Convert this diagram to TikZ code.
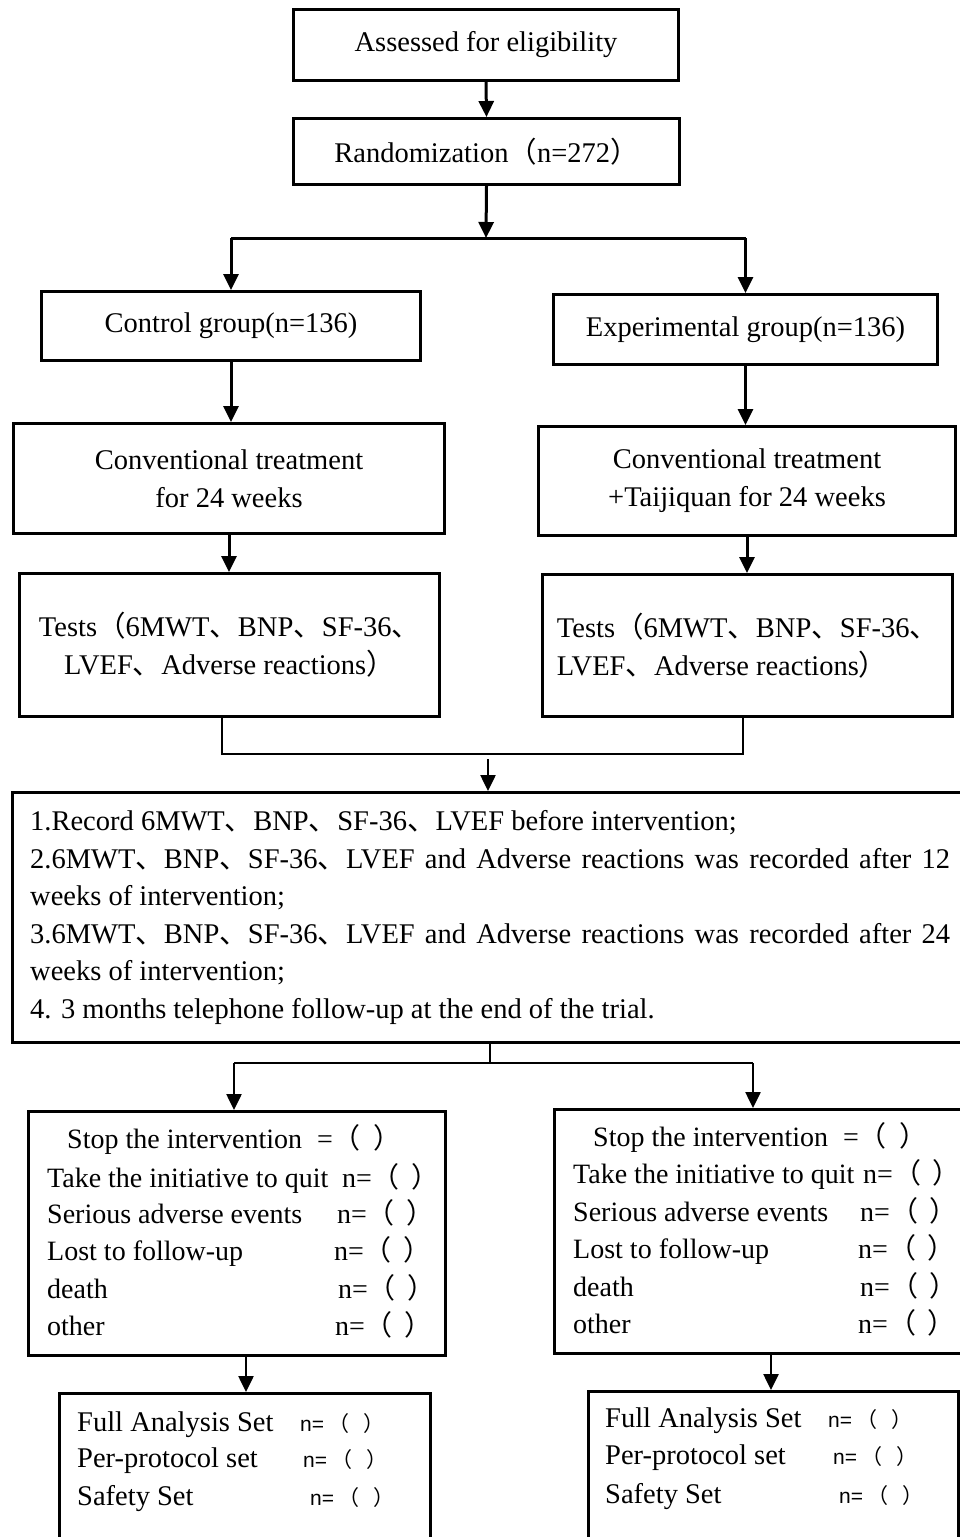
\documentclass[tikz,border=0pt]{standalone}
\usepackage{fontspec}
\setmainfont{Liberation Serif}
\newfontfamily\cjk{Noto Sans CJK SC}
\newfontfamily\sansn{Liberation Sans}
\usetikzlibrary{arrows.meta,calc}
\newcommand{\zlp}{{\cjk （}}
\newcommand{\zrp}{{\cjk ）}}
\newcommand{\zrpn}{\makebox[0.55em][l]{\cjk ）}}
\newcommand{\zdun}{{\cjk 、}}
\newcommand{\nparen}{n=\zlp\hspace{12pt}\zrpn}
\newcommand{\snparen}{{\sansn n=}\hspace{4pt}\zlp\hspace{14pt}\zrpn}
\begin{document}
\begin{tikzpicture}[x=1pt,y=-1pt,
  box/.style={draw, line width=3pt, inner sep=0pt, anchor=north west, align=center, font=\fontsize{28.5}{38}\selectfont},
  thinbox/.style={box, line width=2.5pt},
  arr/.style={line width=3pt, -{Triangle[width=15pt,length=16pt]}},
  thinarr/.style={line width=2.5pt, -{Triangle[width=15pt,length=16pt]}},
  conn/.style={line width=3pt},
  thinconn/.style={line width=2.5pt},
  txt/.style={inner sep=0pt, anchor=base west, font=\fontsize{28.5}{38}\selectfont},
  stxt/.style={inner sep=0pt, anchor=base west, font=\fontsize{28}{38}\selectfont},
  ntxt/.style={inner sep=0pt, anchor=base west, font=\fontsize{21}{25}\selectfont}]

\useasboundingbox (0,0) rectangle (960,1537);
\clip (0,0) rectangle (960,1537);
\fill[white] (0,0) rectangle (960,1537);

% boxes
\node[box, minimum width=385pt, minimum height=71pt] (assess) at (292,8) {Assessed for eligibility};
\node[box, minimum width=386pt, minimum height=66pt] (rand) at (292,117) {Randomization\zlp n=272\zrp};
\node[box, minimum width=379pt, minimum height=69pt] (ctrl) at (40,290) {Control group(n=136)};
\node[box, minimum width=384pt, minimum height=70pt] (exp) at (552,293) {Experimental group(n=136)};
\node[box, minimum width=431pt, minimum height=110pt] (conv1) at (12,422) {Conventional treatment\\for 24 weeks};
\node[box, minimum width=417pt, minimum height=109pt] (conv2) at (537,425) {Conventional treatment\\+Taijiquan for 24 weeks};
\node[box, minimum width=420pt, minimum height=143pt] (tests1) at (18,572) {Tests\zlp 6MWT\zdun BNP\zdun SF-36\zdun\\LVEF\zdun Adverse reactions\zrp};
\node[box, align=left, minimum width=410pt, minimum height=142pt] (tests2) at (541,573) {Tests\zlp 6MWT\zdun BNP\zdun SF-36\zdun\\LVEF\zdun Adverse reactions\zrp};
\node[thinbox, minimum width=964pt, minimum height=250pt] (rec) at (11,791) {};
\node[thinbox, minimum width=417pt, minimum height=244pt] (stop1) at (27,1110) {};
\node[thinbox, minimum width=430pt, minimum height=244pt] (stop2) at (553,1108) {};
\node[thinbox, minimum width=371pt, minimum height=175pt] (set1) at (58,1392) {};
\node[thinbox, minimum width=370pt, minimum height=177pt] (set2) at (587,1390) {};

% connectors top
\draw[arr] (assess.south) -- (rand.north);
\coordinate (j1) at (486,238);
\draw[arr] (rand.south) -- (j1);
\coordinate (cL) at (ctrl.north |- j1);
\coordinate (cR) at (exp.north |- j1);
\draw[conn] (cL) -- (cR);
\draw[arr] (cL) -- (ctrl.north);
\draw[arr] (cR) -- (exp.north);
\draw[arr] (ctrl.south) -- (ctrl.south |- conv1.north);
\draw[arr] (conv1.south) -- (conv1.south |- tests1.north);
\draw[arr] (exp.south) -- (exp.south |- conv2.north);
\draw[arr] (conv2.south) -- (conv2.south |- tests2.north);

% bracket
\coordinate (bL) at (222,754);
\coordinate (bR) at (743,754);
\draw[thinconn] (bL |- tests1.south) -- (bL) -- (bR) -- (bR |- tests2.south);
\coordinate (a1) at (488,759);
\draw[thinarr] (a1) -- (a1 |- rec.north);

% lower split
\coordinate (m1) at (490,1063);
\draw[thinconn] (m1 |- rec.south) -- (m1);
\coordinate (sL) at (234,1063);
\coordinate (sR) at (753,1063);
\draw[thinconn] (sL) -- (sR);
\draw[thinarr] (sL) -- (sL |- stop1.north);
\draw[thinarr] (sR) -- (sR |- stop2.north);
\coordinate (t1) at (246,1370);
\coordinate (t2) at (771,1370);
\draw[thinarr] (t1 |- stop1.south) -- (t1 |- set1.north);
\draw[thinarr] (t2 |- stop2.south) -- (t2 |- set2.north);

% record box text
\node[txt] (r1) at (30,830) {1.Record 6MWT\zdun BNP\zdun SF-36\zdun LVEF before intervention;};
\node[txt] (r2) at (30,868) {\makebox[920pt][s]{2.6MWT\zdun BNP\zdun SF-36\zdun LVEF and Adverse reactions was recorded after 12}};
\node[txt] (r3) at (30,905) {weeks of intervention;};
\node[txt] (r4) at (30,943) {\makebox[920pt][s]{3.6MWT\zdun BNP\zdun SF-36\zdun LVEF and Adverse reactions was recorded after 24}};
\node[txt] (r5) at (30,980) {weeks of intervention;};
\node[txt] (r6) at (30,1018) {4. 3 months telephone follow-up at the end of the trial.};

% left stop box text
\node[stxt] (l1) at (67,1148) {Stop the intervention\hspace{15pt}=\zlp\hspace{13pt}\zrpn};
\node[stxt] (l2) at (47,1187) {Take the initiative to quit};
\node[stxt] (l2n) at (342,1187) {\nparen};
\node[stxt] (l3) at (47,1223) {Serious adverse events};
\node[stxt] (l3n) at (337,1223) {\nparen};
\node[stxt] (l4) at (47,1260) {Lost to follow-up};
\node[stxt] (l4n) at (334,1260) {\nparen};
\node[stxt] (l5) at (47,1298) {death};
\node[stxt] (l5n) at (338,1298) {\nparen};
\node[stxt] (l6) at (47,1335) {other};
\node[stxt] (l6n) at (335,1335) {\nparen};

% right stop box text
\node[stxt] (q1) at (593,1146) {Stop the intervention\hspace{15pt}=\zlp\hspace{13pt}\zrpn};
\node[stxt] (q2) at (573,1183) {Take the initiative to quit};
\node[stxt] (q2n) at (863,1183) {\nparen};
\node[stxt] (q3) at (573,1221) {Serious adverse events};
\node[stxt] (q3n) at (860,1221) {\nparen};
\node[stxt] (q4) at (573,1258) {Lost to follow-up};
\node[stxt] (q4n) at (858,1258) {\nparen};
\node[stxt] (q5) at (573,1296) {death};
\node[stxt] (q5n) at (860,1296) {\nparen};
\node[stxt] (q6) at (573,1333) {other};
\node[stxt] (q6n) at (858,1333) {\nparen};

% set boxes text
\node[txt] (f1) at (77,1431) {Full Analysis Set};
\node[ntxt] (f1n) at (300,1431) {\snparen};
\node[txt] (p1) at (77,1467) {Per-protocol set};
\node[ntxt] (p1n) at (303,1467) {\snparen};
\node[txt] (s1) at (77,1505) {Safety Set};
\node[ntxt] (s1n) at (310,1505) {\snparen};
\node[txt] (f2) at (605,1427) {Full Analysis Set};
\node[ntxt] (f2n) at (828,1427) {\snparen};
\node[txt] (p2) at (605,1464) {Per-protocol set};
\node[ntxt] (p2n) at (833,1464) {\snparen};
\node[txt] (s2) at (605,1503) {Safety Set};
\node[ntxt] (s2n) at (839,1503) {\snparen};
\end{tikzpicture}
\end{document}
